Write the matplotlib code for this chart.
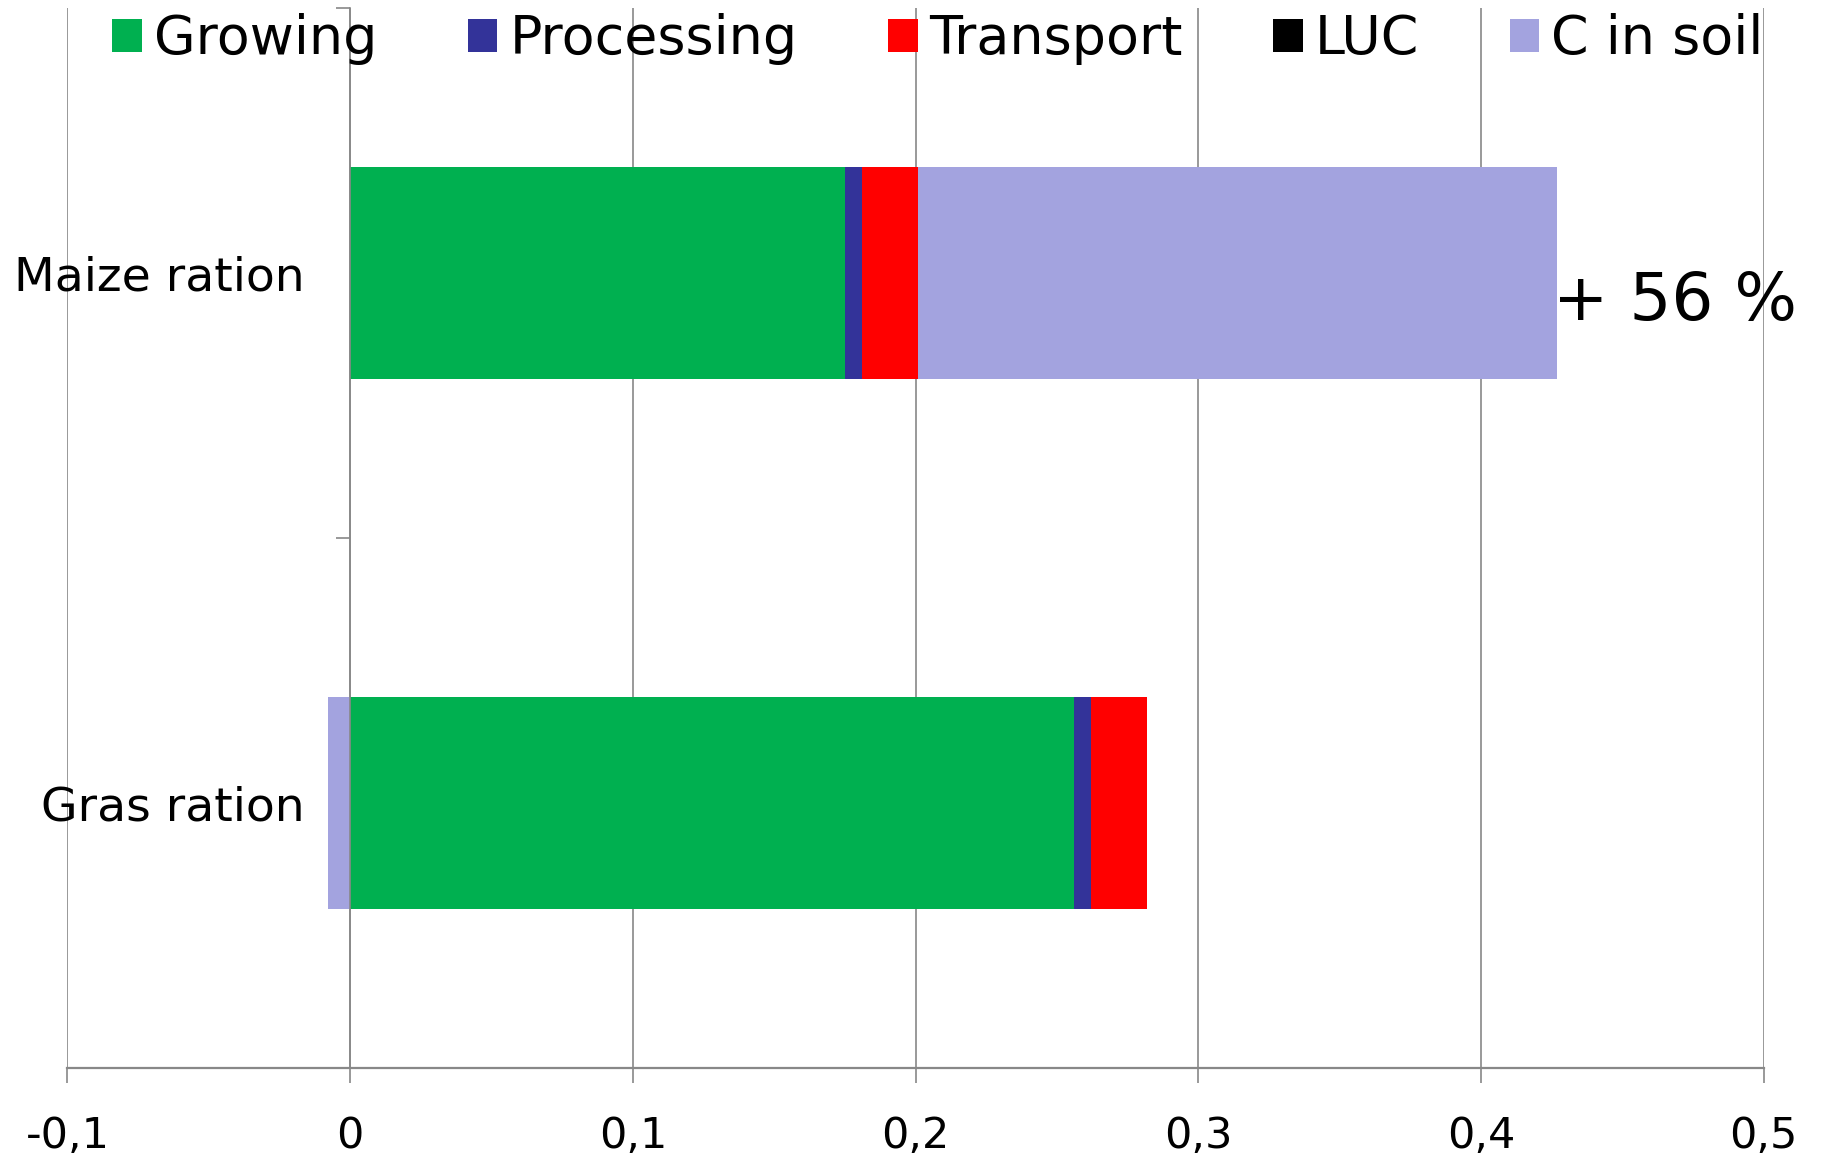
import matplotlib
matplotlib.use('Agg')
import matplotlib.pyplot as plt
import numpy as np

# data
categories = ['Gras ration', 'Maize ration']
series_names = ['Growing', 'Processing', 'Transport', 'LUC', 'C in soil']
growing = [0.256, 0.175]
processing = [0.006, 0.006]
transport = [0.020, 0.020]
luc = [0.0, 0.0]
c_in_soil = [-0.008, 0.226]
x_ticks = [-0.1, 0.0, 0.1, 0.2, 0.3, 0.4, 0.5]
x_tick_labels = ['-0,1', '0', '0,1', '0,2', '0,3', '0,4', '0,5']
note_text = '+ 56 %'

colors = ['#00B050', '#333399', '#FF0000', '#000000', '#A3A3DF']
grid_col = '#888888'

plt.rcParams['font.family'] = ['DejaVu Sans']

fig = plt.figure(figsize=(18.23, 11.58), dpi=100)
ax = fig.add_axes([0.037, 0.0777, 0.9305, 0.9153])

ypos = np.arange(len(categories))
pos_left = np.zeros(len(categories))
neg_left = np.zeros(len(categories))
handles = []
for name, vals, col in zip(series_names, [growing, processing, transport, luc, c_in_soil], colors):
    vals = np.array(vals)
    left = np.where(vals >= 0, pos_left, neg_left)
    b = ax.barh(ypos, vals, left=left, height=0.4, color=col, edgecolor='none', label=name)
    handles.append(b)
    pos_left = pos_left + np.where(vals >= 0, vals, 0)
    neg_left = neg_left + np.where(vals < 0, vals, 0)

# annotation at end of maize bar
ax.annotate(note_text, xy=(pos_left[1], ypos[1] - 0.055), xytext=(-4, 0),
            textcoords='offset pixels', ha='left', va='center', fontsize=47.5)

ax.set_xlim(-0.1, 0.5)
ax.set_ylim(-0.5, 1.5)
ax.set_xticks(x_ticks)
ax.set_xticklabels(x_tick_labels)
ax.set_yticks(ypos)
ax.set_yticks([-0.5, 0.5, 1.5], minor=True)
ax.set_yticklabels(categories)

ax.set_axisbelow(True)
ax.grid(axis='x', color=grid_col, linewidth=1.2)
ax.grid(axis='y', visible=False)

for s in ['top', 'right']:
    ax.spines[s].set_visible(False)
ax.spines['left'].set_position(('data', 0))
ax.spines['left'].set_color(grid_col)
ax.spines['left'].set_linewidth(1.2)
ax.spines['left'].set_zorder(3)
ax.spines['bottom'].set_color(grid_col)
ax.spines['bottom'].set_linewidth(1.6)

ax.tick_params(axis='x', which='major', length=11, width=1.2, color=grid_col, pad=23, labelsize=31)
ax.tick_params(axis='y', which='major', length=0, pad=33, labelsize=34)
ax.tick_params(axis='y', which='minor', length=10, width=1.2, color=grid_col, direction='out')

fig.legend(handles=handles, labels=series_names, loc='center', bbox_to_anchor=(0.5145, 0.966),
           ncol=5, frameon=False, fontsize=38.8, handlelength=0.55, handleheight=0.55,
           handletextpad=0.22, columnspacing=1.68, borderaxespad=0)

fig.savefig('out.png', dpi=100, facecolor='white')
